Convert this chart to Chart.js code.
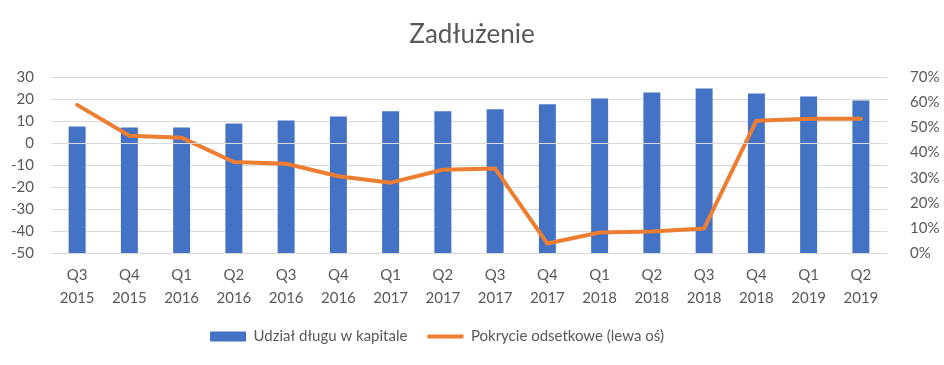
<!DOCTYPE html>
<html>
<head>
<meta charset="utf-8">
<script src="https://cdn.jsdelivr.net/npm/chart.js@4/dist/chart.umd.min.js"></script>
<style>
    html, body { margin: 0; padding: 0; background: #fff; }
    #wrap { width: 944px; height: 365px; }
</style>
</head>
<body>
<div id="wrap"><canvas id="chart"></canvas></div>
<script>
const quarters = [
    ['Q3', '2015'], ['Q4', '2015'], ['Q1', '2016'], ['Q2', '2016'],
    ['Q3', '2016'], ['Q4', '2016'], ['Q1', '2017'], ['Q2', '2017'],
    ['Q3', '2017'], ['Q4', '2017'], ['Q1', '2018'], ['Q2', '2018'],
    ['Q3', '2018'], ['Q4', '2018'], ['Q1', '2019'], ['Q2', '2019']
];

// udział długu w kapitale, % (prawa oś)
const debtShare = [50.4, 50.0, 50.0, 51.6, 52.8, 54.4, 56.4, 56.4, 57.2, 59.2, 61.5, 63.9, 65.5, 63.5, 62.3, 60.7];

// pokrycie odsetkowe (lewa oś)
const interestCover = [17.4, 3.4, 2.5, -8.6, -9.4, -15.1, -18.0, -12.1, -11.6, -45.7, -40.7, -40.2, -38.8, 10.2, 11.1, 11.1];

const TEXT = '#595959';
const GRID = '#d9d9d9';
const FONT = "Lato, 'Open Sans', sans-serif";

// Excel rysuje oś kategorii w zerze lewej osi, nad słupkami
const zeroLine = {
    id: 'zeroLine',
    afterDatasetsDraw(chart) {
        const y = Math.round(chart.scales.y.getPixelForValue(0)) + 0.5;
        const { left, right } = chart.chartArea;
        const ctx = chart.ctx;
        ctx.save();
        ctx.strokeStyle = GRID;
        ctx.lineWidth = 1;
        ctx.beginPath();
        ctx.moveTo(left, y);
        ctx.lineTo(right, y);
        ctx.stroke();
        ctx.restore();
    }
};

// legenda w oryginale jest trochę przesunięta w lewo
const legendShift = {
    id: 'legendShift',
    afterLayout(chart) {
        chart.legend.left -= 35;
        chart.legend.right -= 35;
    }
};

new Chart(document.getElementById('chart'), {
    data: {
        labels: quarters,
        datasets: [
            {
                type: 'line',
                label: 'Pokrycie odsetkowe (lewa oś)',
                data: interestCover,
                yAxisID: 'y',
                borderColor: '#ED7D31',
                backgroundColor: '#ED7D31',
                borderWidth: 4,
                borderCapStyle: 'round',
                borderJoinStyle: 'round',
                pointRadius: 0,
                pointStyle: 'line',
                tension: 0,
                order: 0
            },
            {
                type: 'bar',
                label: 'Udział długu w kapitale',
                data: debtShare,
                yAxisID: 'y1',
                backgroundColor: '#4472C4',
                borderWidth: 0,
                barPercentage: 0.325,
                categoryPercentage: 1,
                pointStyle: 'rect',
                order: 1
            }
        ]
    },
    options: {
        responsive: true,
        maintainAspectRatio: false,
        animation: false,
        layout: { padding: { left: 0, right: 0, top: 0, bottom: 11 } },
        plugins: {
            title: {
                display: true,
                text: 'Zadłużenie',
                color: TEXT,
                font: { family: FONT, size: 26, weight: 'normal' },
                padding: { top: 19, bottom: 27 }
            },
            legend: {
                position: 'bottom',
                reverse: true,
                labels: {
                    color: TEXT,
                    font: { family: FONT, size: 15 },
                    usePointStyle: true,
                    pointStyleWidth: 36,
                    boxHeight: 10,
                    padding: 20
                }
            },
            tooltip: { enabled: false }
        },
        scales: {
            x: {
                grid: { display: false },
                border: { display: false },
                afterFit: (s) => { s.height = 56; },
                ticks: {
                    color: TEXT,
                    font: { family: FONT, size: 15, lineHeight: 1.53 },
                    maxRotation: 0,
                    autoSkip: false,
                    padding: 3
                }
            },
            y: {
                position: 'left',
                min: -50,
                max: 30,
                afterFit: (s) => { s.width = 51; },
                grid: { color: GRID, lineWidth: 1, drawTicks: false },
                border: { display: false },
                ticks: {
                    stepSize: 10,
                    autoSkip: false,
                    color: TEXT,
                    font: { family: FONT, size: 15 },
                    padding: 17
                }
            },
            y1: {
                position: 'right',
                min: 0,
                max: 70,
                afterFit: (s) => { s.width = 57; },
                grid: { display: false },
                border: { display: false },
                ticks: {
                    stepSize: 10,
                    autoSkip: false,
                    color: TEXT,
                    font: { family: FONT, size: 15 },
                    padding: 15,
                    callback: (v) => v + '%'
                }
            }
        }
    },
    plugins: [zeroLine, legendShift]
});
</script>
</body>
</html>
